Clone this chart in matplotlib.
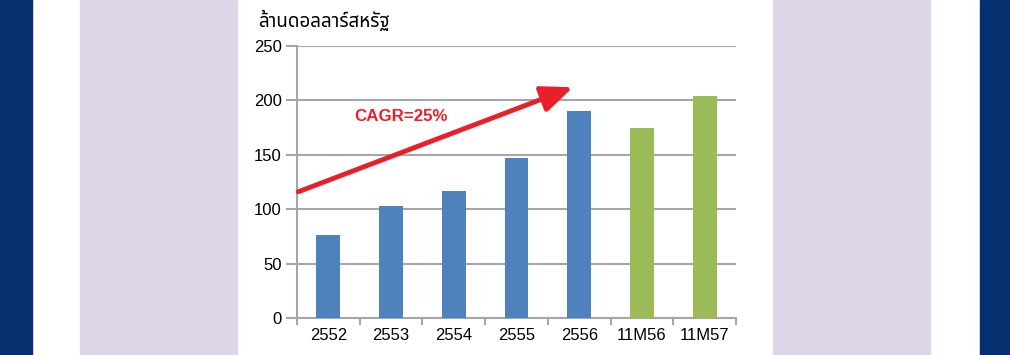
import matplotlib.pyplot as plt
from matplotlib.patches import Rectangle
from matplotlib import font_manager

categories = ['2552', '2553', '2554', '2555', '2556', '11M56', '11M57']
values = [76, 103, 117, 147, 190, 175, 204]
bar_colors = ['#4f81bd'] * 5 + ['#9bbb59'] * 2
y_ticks = [0, 50, 100, 150, 200, 250]
y_title = 'ล้านดอลลาร์สหรัฐ'
cagr_text = 'CAGR=25%'

names = set(f.name for f in font_manager.fontManager.ttflist)

plt.rcParams['font.family'] = ['Liberation Sans', 'DejaVu Sans']
thai_fams = [n for n in ['Noto Sans Thai', 'Noto Sans Thai UI', 'Loma', 'Garuda', 'Tlwg Typo',
                         'Noto Sans', 'DejaVu Sans'] if n in names]

fig = plt.figure(figsize=(10.1, 3.55), dpi=100)
W, H = 1010, 355

# background stripes
def band(x0, x1, color):
    fig.patches.append(Rectangle((x0 / W, 0), (x1 - x0) / W, 1, transform=fig.transFigure,
                                 color=color, zorder=0))

band(0, 32, '#052f6e')
band(80, 237, '#ded5e8')
band(773, 930, '#ded5e8')
band(980, 1010, '#052f6e')

ax = fig.add_axes([297 / W, 1 - 318 / H, (736 - 297) / W, (318 - 46) / H])
ax.set_facecolor('white')
x = list(range(len(categories)))
ax.bar(x, values, width=0.38, color=bar_colors, zorder=3)

ax.set_xlim(-0.5, len(categories) - 0.5)
ax.set_ylim(0, 250)
ax.set_yticks(y_ticks)
ax.set_xticks(x)
ax.set_xticklabels(categories)
ax.set_xticks([i - 0.5 for i in range(len(categories) + 1)], minor=True)
ax.tick_params(axis='x', which='major', length=0, labelsize=12, pad=7)
ax.tick_params(axis='x', which='minor', length=5, color='#a6a6a6', width=1.5)
ax.tick_params(axis='y', length=8, color='#a6a6a6', width=1.5, labelsize=12, pad=3)
ax.grid(axis='y', color='#a6a6a6', linewidth=1.5, zorder=0)
for s in ['top', 'right']:
    ax.spines[s].set_visible(False)
for s in ['left', 'bottom']:
    ax.spines[s].set_color('#a6a6a6')
    ax.spines[s].set_linewidth(1.5)

ax.annotate('', xy=(3.9, 212), xytext=(-0.48, 116),
            arrowprops=dict(arrowstyle='-|>,head_length=1.9,head_width=0.8', color='#e8202a',
                            lw=3.5, shrinkA=0, shrinkB=0), zorder=5, annotation_clip=False)
ax.text(0.41, 185, cagr_text, color='#e8202a', fontsize=12.2, fontweight='bold',
        va='center', ha='left', zorder=6)

fig.text(258 / W, 1 - 20 / H, y_title, fontsize=13.5, family=thai_fams, va='center', ha='left')

fig.savefig('out.png', dpi=100)
